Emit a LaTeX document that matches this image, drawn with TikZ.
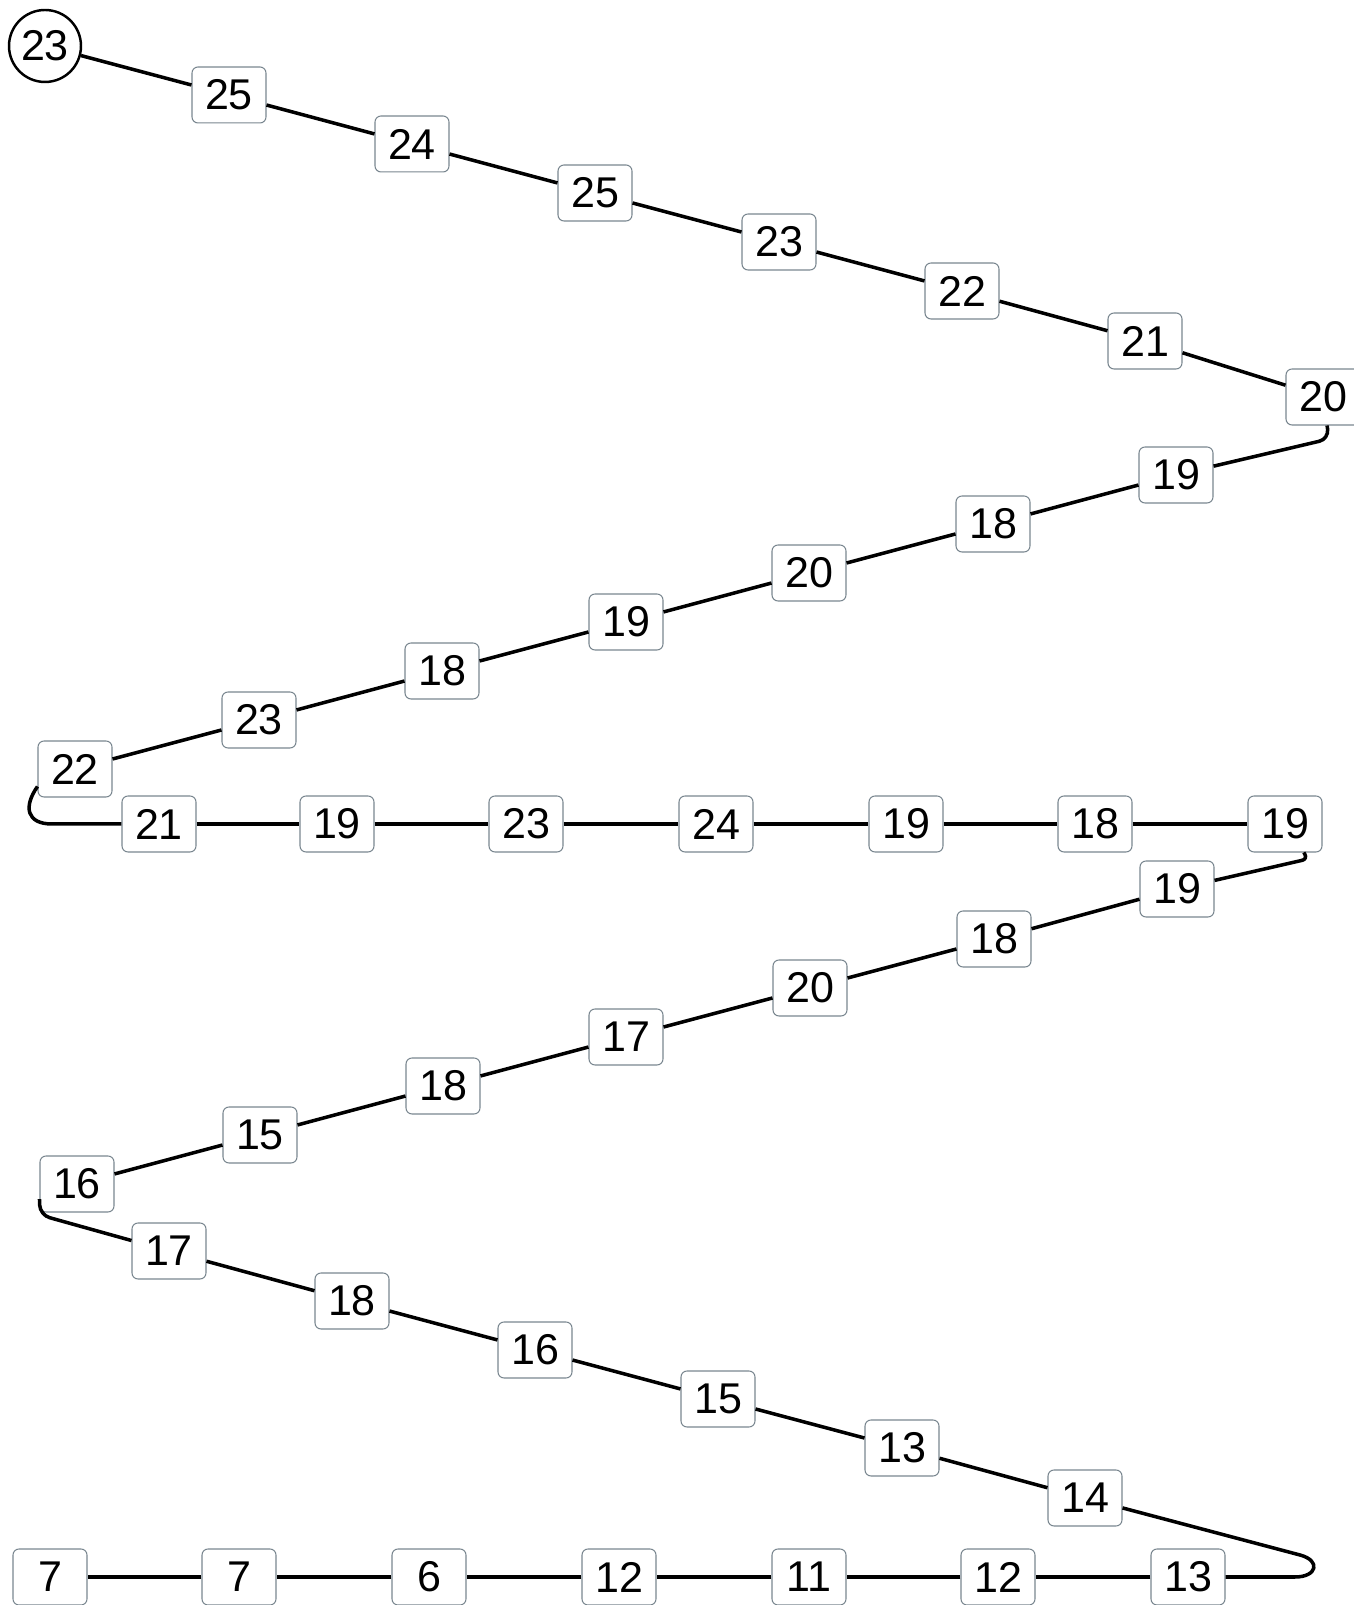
\documentclass[tikz,border=0pt]{standalone}
\usepackage{fontspec}
\setmainfont{Liberation Sans}
\definecolor{cellline}{HTML}{7A8790}
\definecolor{pathline}{HTML}{000000}

\begin{document}
\begin{tikzpicture}[x=0.02cm, y=0.02cm,
  cell/.style={draw=cellline, line width=0.6pt, fill=white, rounded corners=0.12cm,
    minimum width=1.48cm, minimum height=1.12cm, inner sep=0pt,
    font=\fontsize{24.5}{28}\selectfont},
  headcell/.style={circle, draw=pathline, line width=1.4pt, fill=white,
    minimum size=1.44cm, inner sep=0pt, font=\fontsize{24.5}{28}\selectfont},
  link/.style={draw=pathline, line width=2pt, line join=round}]
  \useasboundingbox (0, 0) rectangle (1353, 1605);

  % Start
  \node[headcell] (c23) at (45, 1559) {23};

  % First run, going down to the right
  \node[cell] (a1) at (229, 1510) {25};
  \node[cell] (a2) at (412, 1461) {24};
  \node[cell] (a3) at (595, 1412) {25};
  \node[cell] (a4) at (779, 1363) {23};
  \node[cell] (a5) at (962, 1314) {22};
  \node[cell] (a6) at (1145, 1264) {21};
  \node[cell] (a7) at (1323, 1208) {20};

  % Second run, going up to the left
  \node[cell] (b1) at (1176, 1130) {19};
  \node[cell] (b2) at (993, 1081) {18};
  \node[cell] (b3) at (809, 1032) {20};
  \node[cell] (b4) at (626, 983) {19};
  \node[cell] (b5) at (442, 934) {18};
  \node[cell] (b6) at (259, 885) {23};
  \node[cell] (b7) at (75, 836) {22};

  % Third run, flat
  \node[cell] (c1) at (159, 781) {21};
  \node[cell] (c2) at (337, 781) {19};
  \node[cell] (c3) at (526, 781) {23};
  \node[cell] (c4) at (716, 781) {24};
  \node[cell] (c5) at (906, 781) {19};
  \node[cell] (c6) at (1095, 781) {18};
  \node[cell] (c7) at (1285, 781) {19};

  % Fourth run, going up to the left
  \node[cell] (d1) at (1177, 716) {19};
  \node[cell] (d2) at (994, 666) {18};
  \node[cell] (d3) at (810, 617) {20};
  \node[cell] (d4) at (626, 568) {17};
  \node[cell] (d5) at (443, 519) {18};
  \node[cell] (d6) at (260, 470) {15};
  \node[cell] (d7) at (77, 421) {16};

  % Fifth run, going down to the right
  \node[cell] (e1) at (169, 354) {17};
  \node[cell] (e2) at (352, 304) {18};
  \node[cell] (e3) at (535, 255) {16};
  \node[cell] (e4) at (718, 206) {15};
  \node[cell] (e5) at (902, 157) {13};
  \node[cell] (e6) at (1085, 107) {14};

  % Last run, flat
  \node[cell] (f1) at (1188, 28) {13};
  \node[cell] (f2) at (998, 28) {12};
  \node[cell] (f3) at (809, 28) {11};
  \node[cell] (f4) at (619, 28) {12};
  \node[cell] (f5) at (429, 28) {6};
  \node[cell] (f6) at (239, 28) {7};
  \node[cell] (f7) at (50, 28) {7};

  % Turning points
  \coordinate (turnA) at (1329, 1166);
  \coordinate (turnB) at (52, 781);
  \coordinate (turnC) at (1308, 746);
  \coordinate (turnD) at (40, 390);
  \coordinate (turnE) at (1300, 50);
  \coordinate (turnF) at (1295, 28);

  % The path
  \draw[link] (c23) -- (a1) -- (a2) -- (a3) -- (a4) -- (a5) -- (a6) -- (a7);
  \draw[link, rounded corners=0.2cm] (a7) -- (turnA) -- (b1);
  \draw[link] (b1) -- (b2) -- (b3) -- (b4) -- (b5) -- (b6) -- (b7);
  \draw[link] (b7.205) to[out=235, in=180, looseness=1.6] (turnB) -- (c1);
  \draw[link] (c1) -- (c2) -- (c3) -- (c4) -- (c5) -- (c6) -- (c7);
  \draw[link, rounded corners=0.12cm] (c7) -- (turnC) -- (d1);
  \draw[link] (d1) -- (d2) -- (d3) -- (d4) -- (d5) -- (d6) -- (d7);
  \draw[link, rounded corners=0.2cm] (d7.202) -- (turnD) -- (e1);
  \draw[link] (e1) -- (e2) -- (e3) -- (e4) -- (e5) -- (e6);
  \draw[link] (e6) -- (turnE) to[out=-15, in=0, looseness=2.5] (turnF) -- (f1);
  \draw[link] (f1) -- (f2) -- (f3) -- (f4) -- (f5) -- (f6) -- (f7);
\end{tikzpicture}
\end{document}
